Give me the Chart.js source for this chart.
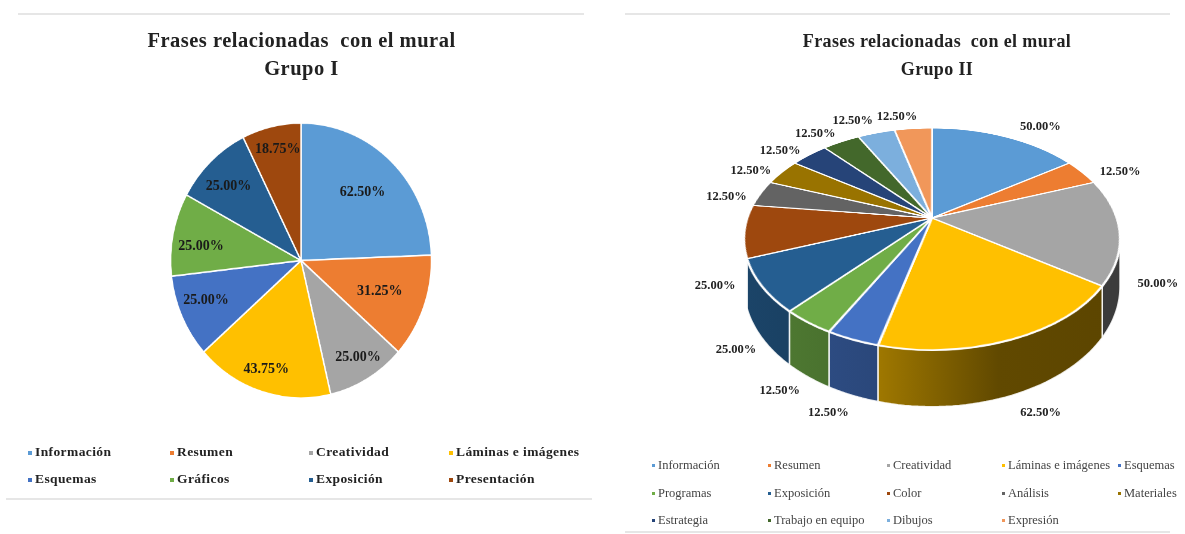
<!DOCTYPE html>
<html lang="es">
<head>
<meta charset="utf-8">
<title>Frases relacionadas con el mural</title>
<script src="https://cdn.jsdelivr.net/npm/chart.js@4"></script>
<style>
    html, body { margin: 0; background: #fff; }
    body { width: 1185px; height: 534px; position: relative; overflow: hidden; font-family: "Liberation Serif", serif; }
    #page { position: absolute; left: 0; top: 0; width: 1185px; height: 534px; filter: blur(0.5px); }
    canvas { position: absolute; top: 0; }
    #chart1 { left: 0; }
    #chart2 { left: 689px; }
    .rule { position: absolute; height: 2px; background: #e6e6e6; }
    .legend { position: absolute; display: grid; }
    .legend div { white-space: nowrap; position: relative; }
    .legend i { position: absolute; width: 4px; height: 4px; }
    #legend1 { left: 35px; top: 444px; grid-template-columns: 142px 139px 140px 130px; grid-auto-rows: 27px; font-weight: bold; font-size: 13.5px; letter-spacing: 0.4px; color: #222; }
    #legend1 i { left: -7px; top: 7px; }
    #legend2 { left: 658px; top: 458px; grid-template-columns: 116px 119px 115px 116px 60px; grid-auto-rows: 27.5px; font-size: 12.5px; color: #444; filter: blur(0.5px); }
    #legend2 i { left: -6px; top: 6px; width: 3px; height: 3px; }
</style>
</head>
<body>
<div id="page">
    <div class="rule" style="left:18px;top:13px;width:566px"></div>
    <div class="rule" style="left:6px;top:498px;width:586px"></div>
    <div class="rule" style="left:625px;top:13px;width:545px"></div>
    <div class="rule" style="left:625px;top:531px;width:545px"></div>
    <canvas id="chart1" width="603" height="534"></canvas>
    <canvas id="chart2" width="496" height="534"></canvas>
    <div class="legend" id="legend1"></div>
    <div class="legend" id="legend2"></div>
</div>
<script>
const tituloG1 = ['Frases relacionadas  con el mural', 'Grupo I'];
const categoriasG1 = ['Información', 'Resumen', 'Creatividad', 'Láminas e imágenes', 'Esquemas', 'Gráficos', 'Exposición', 'Presentación'];
const valoresG1 = [62.5, 31.25, 25, 43.75, 25, 25, 25, 18.75];
const coloresG1 = ['#5B9BD5', '#ED7D31', '#A5A5A5', '#FFC000', '#4472C4', '#70AD47', '#255E91', '#9E480E'];

const tituloG2 = ['Frases relacionadas  con el mural', 'Grupo II'];
const categoriasG2 = ['Información', 'Resumen', 'Creatividad', 'Láminas e imágenes', 'Esquemas', 'Programas', 'Exposición', 'Color', 'Análisis', 'Materiales', 'Estrategia', 'Trabajo en equipo', 'Dibujos', 'Expresión'];
const valoresG2 = [50, 12.5, 50, 62.5, 12.5, 12.5, 25, 25, 12.5, 12.5, 12.5, 12.5, 12.5, 12.5];
const coloresG2 = ['#5B9BD5', '#ED7D31', '#A5A5A5', '#FFC000', '#4472C4', '#70AD47', '#255E91', '#9E480E', '#636363', '#997300', '#264478', '#43682B', '#7CAFDD', '#F1975A'];

function shade(hex, k) {
    const n = parseInt(hex.slice(1), 16);
    return 'rgb(' + [(n >> 16) & 255, (n >> 8) & 255, n & 255].map(c => Math.round(c * k)).join(',') + ')';
}

// the arcs stay Chart.js elements, they are only painted flat and then tilted row by row
const tiltedPie = {
    id: 'tiltedPie',
    beforeDraw(chart, args, o) {
        chart.ctx.letterSpacing = o.titleSpacing;
    },
    beforeDatasetsDraw(chart, args, o) {
        const ctx = chart.ctx;
        const arcs = chart.getDatasetMeta(0).data;
        const R = arcs[0].outerRadius;
        const size = 2 * R + 8;

        if (o.depth) {
            // only the front of the rim shows
            arcs.forEach(arc => {
                const from = Math.max(arc.startAngle, o.rimFrom);
                const to = Math.min(arc.endAngle, o.rimTo);
                if (to <= from) return;
                const color = arc.options.backgroundColor;
                const g = ctx.createLinearGradient(o.cx - o.rx, 0, o.cx + o.rx, 0);
                g.addColorStop(0, shade(color, 0.72));
                g.addColorStop(0.36, shade(color, 0.62));
                g.addColorStop(0.68, shade(color, 0.38));
                g.addColorStop(1, shade(color, 0.36));
                const top = [], bottom = [];
                for (let t = 0; t <= 40; t++) {
                    const a = from + (to - from) * t / 40;
                    const w = 1 - o.p * Math.sin(a);
                    const x = o.cx + o.rx * Math.cos(a) / w;
                    const y = o.cy + o.ry * Math.sin(a) / w;
                    top.push([x, y]);
                    bottom.unshift([x, y + o.depth / w]);
                }
                ctx.beginPath();
                top.concat(bottom).forEach(p => ctx.lineTo(p[0], p[1]));
                ctx.closePath();
                ctx.fillStyle = g;
                ctx.fill();
                ctx.strokeStyle = 'rgba(255,255,255,0.85)';
                ctx.lineWidth = 1.5;
                ctx.stroke();
            });
        }

        const flat = document.createElement('canvas');
        flat.width = flat.height = size;
        const fc = flat.getContext('2d');
        fc.translate(size / 2 - arcs[0].x, size / 2 - arcs[0].y);
        arcs.forEach(arc => arc.draw(fc));

        const first = Math.floor(o.cy - o.ry / (1 + o.p)) - 2;
        const last = Math.ceil(o.cy + o.ry / (1 - o.p)) + 2;
        for (let y = first; y <= last; y++) {
            const v1 = (y - o.cy) / (o.ry + o.p * (y - o.cy));
            const v2 = (y + 1 - o.cy) / (o.ry + o.p * (y + 1 - o.cy));
            const s = 1 / (1 - o.p * (v1 + v2) / 2);
            const dw = size / R * o.rx * s;
            ctx.drawImage(flat, 0, size / 2 + v1 * R, size, (v2 - v1) * R, o.cx - dw / 2, y, dw, 1);
        }
        return false;
    },
    afterDraw(chart, args, o) {
        const ctx = chart.ctx;
        const values = chart.data.datasets[0].data;
        ctx.save();
        ctx.letterSpacing = '0px';
        ctx.font = o.labelFont;
        ctx.fillStyle = o.labelColor;
        ctx.textAlign = 'center';
        ctx.textBaseline = 'middle';
        chart.getDatasetMeta(0).data.forEach((arc, i) => {
            const a = (arc.startAngle + arc.endAngle) / 2;
            const u = Math.cos(a) * o.labelX;
            const v = Math.sin(a) * o.labelY;
            const w = 1 - o.p * v;
            let y = o.cy + o.ry * v / w;
            if (o.depth && Math.sin(a) > 0) y += o.depth / w;
            // the original labels were placed by hand, so each one gets a small nudge
            const nudge = o.labelNudge[i];
            ctx.fillText(values[i].toFixed(2) + '%', o.cx + o.rx * u / w + nudge[0], y + nudge[1]);
        });
        ctx.restore();
    }
};

function buildLegend(id, labels, colors) {
    const box = document.getElementById(id);
    labels.forEach((label, i) => {
        const item = document.createElement('div');
        const mark = document.createElement('i');
        mark.style.background = colors[i];
        item.appendChild(mark);
        item.appendChild(document.createTextNode(label));
        box.appendChild(item);
    });
}

function pieChart(id, labels, values, colors, title, titleSize, tilt) {
    return new Chart(document.getElementById(id), {
        type: 'pie',
        data: { labels: labels, datasets: [{ data: values, backgroundColor: colors, borderColor: '#fff', borderWidth: 2.5 }] },
        plugins: [tiltedPie],
        options: {
            responsive: false,
            animation: false,
            plugins: {
                legend: { display: false },
                tooltip: { enabled: false },
                title: {
                    display: true,
                    text: title,
                    color: '#222',
                    font: { family: '"Liberation Serif"', size: titleSize, weight: 'bold', lineHeight: 28 / titleSize },
                    padding: { top: 28, bottom: 10 }
                },
                tiltedPie: tilt
            }
        }
    });
}

pieChart('chart1', categoriasG1, valoresG1, coloresG1, tituloG1, 20.5, {
    cx: 301, cy: 260.5, rx: 130.5, ry: 137.5, p: 0, depth: 0, titleSpacing: '0.5px',
    labelX: 0.78, labelY: 0.78, labelFont: 'bold 14px "Liberation Serif"', labelColor: '#1a1a1a',
    labelNudge: [[-9, 9], [-17, -5], [5, 5], [-4, 7], [-2, -4], [0, 6], [-2, 3], [0, -7]]
});
pieChart('chart2', categoriasG2, valoresG2, coloresG2, tituloG2, 18, {
    cx: 243, cy: 218, rx: 184.6, ry: 107, p: 0.189, depth: 46, rimFrom: 0.19, rimTo: 2.78, titleSpacing: '0.37px',
    labelX: 1.2, labelY: 1.15, labelFont: 'bold 12.5px "Liberation Serif"', labelColor: '#222',
    labelNudge: [[22, 0], [10, 6], [0, 3], [10, -7], [-5, -7], [1, -7], [12, 0], [9, 5], [-1, 7], [-3, 5], [-7, 4], [-10, 2], [-14, -2], [-13, -1]]
});
buildLegend('legend1', categoriasG1, coloresG1);
buildLegend('legend2', categoriasG2, coloresG2);
</script>
</body>
</html>
